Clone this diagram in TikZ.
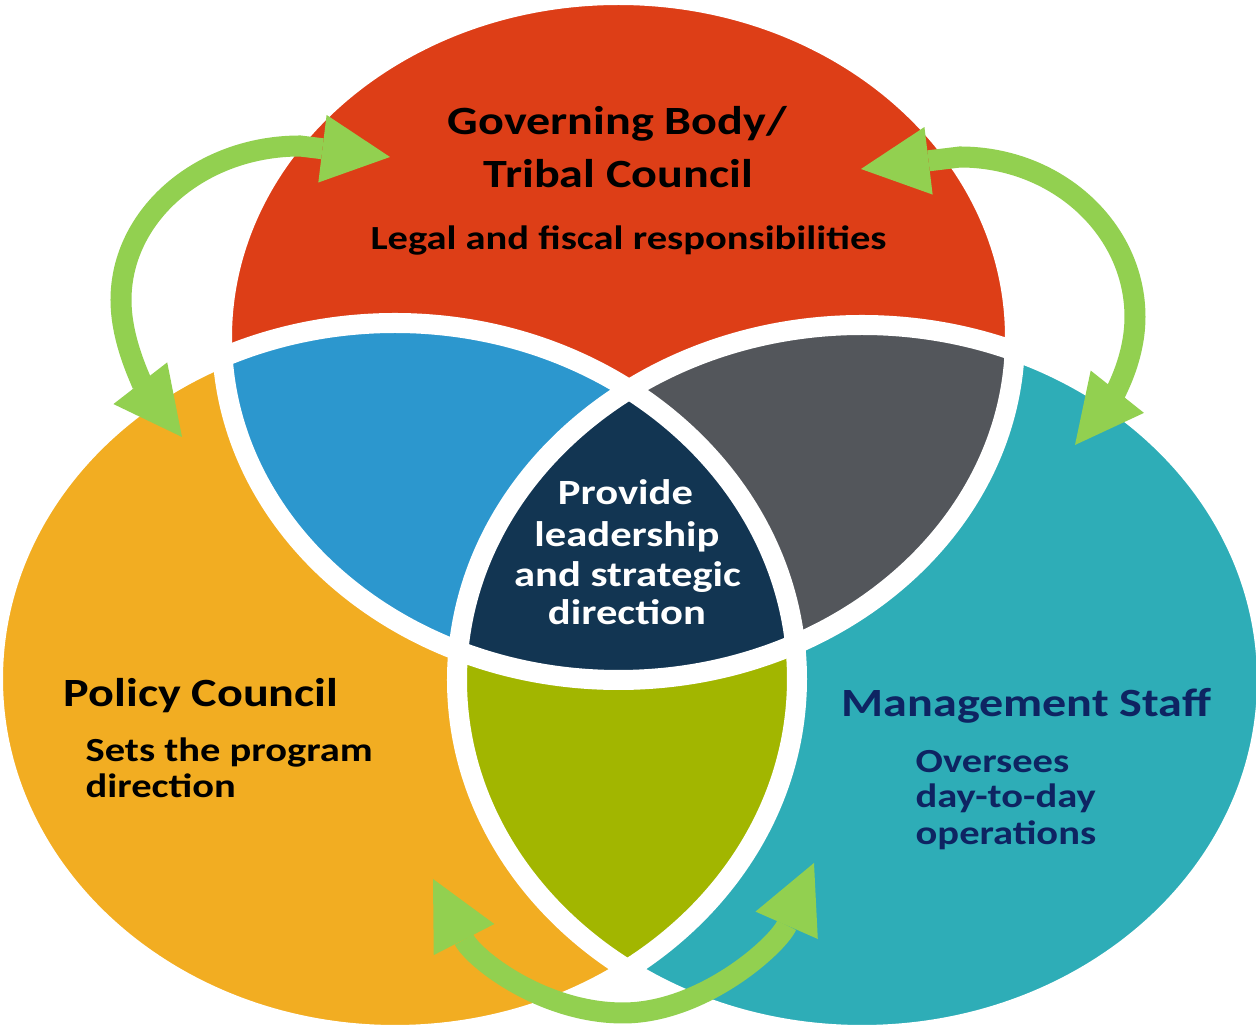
\documentclass[tikz,border=0pt]{standalone}
\usepackage{fontspec}
\setmainfont{Carlito}
\usepackage{graphicx}
\usetikzlibrary{arrows.meta}

\definecolor{govred}{HTML}{DD3E17}
\definecolor{polorange}{HTML}{F2AD22}
\definecolor{mgtteal}{HTML}{2EADB7}
\definecolor{pairblue}{HTML}{2C97CE}
\definecolor{pairgray}{HTML}{53565B}
\definecolor{pairolive}{HTML}{A2B600}
\definecolor{corenavy}{HTML}{123552}
\definecolor{flowgreen}{HTML}{92D050}
\definecolor{mgtink}{HTML}{0E2462}

\tikzstyle{ring}=[draw=white,line width=0.2cm]
\tikzstyle{flow}=[draw=flowgreen,line width=0.21cm,arrows={Triangle[width=0.68cm,length=0.68cm,line width=0pt]-Triangle[width=0.68cm,length=0.68cm,line width=0pt]}]
\tikzstyle{headtext}=[font=\fontsize{11.4}{13}\selectfont\bfseries,inner sep=0pt,text=black]
\tikzstyle{subtext}=[font=\fontsize{9.6}{11}\selectfont\bfseries,inner sep=0pt,text=black]
\tikzstyle{mgthead}=[headtext,text=mgtink]
\tikzstyle{mgtsub}=[subtext,text=mgtink]
\tikzstyle{coretext}=[font=\fontsize{10.1}{12}\selectfont\bfseries,inner sep=0pt,text=white]

\newcommand{\wide}[1]{\scalebox{1.2}[1]{#1}}

\begin{document}
\begin{tikzpicture}[x=0.01cm,y=-0.01cm]
    \useasboundingbox (0,0) rectangle (1256,1031);
    % circle centres
    \coordinate (gov) at (618.5,337.5);
    \coordinate (pol) at (395,679);
    \coordinate (mgt) at (862,680);
    % circles
    \fill[govred] (gov) ellipse [x radius=396.5, y radius=342.5];
    \fill[polorange] (pol) ellipse [x radius=402, y radius=356];
    \fill[mgtteal] (mgt) ellipse [x radius=405, y radius=355];
    % overlaps
    \begin{scope}
      \clip (pol) ellipse [x radius=402, y radius=356];
      \fill[pairolive] (mgt) ellipse [x radius=405, y radius=355];
    \end{scope}
    \begin{scope}
      \clip (gov) ellipse [x radius=396.5, y radius=342.5];
      \fill[pairblue] (pol) ellipse [x radius=402, y radius=356];
      \fill[pairgray] (mgt) ellipse [x radius=405, y radius=355];
      \clip (pol) ellipse [x radius=402, y radius=356];
      \fill[corenavy] (mgt) ellipse [x radius=405, y radius=355];
    \end{scope}
    % white rims
    \foreach \c/\rx/\ry in {gov/396.5/342.5, pol/402/356, mgt/405/355}
      \draw[ring] (\c) ellipse [x radius=\rx, y radius=\ry];

    % arrows
    \coordinate (tlLow) at (182,437);
    \coordinate (tlTop) at (390,157);
    \coordinate (trTop) at (861,169);
    \coordinate (trLow) at (1075,445);
    \coordinate (btLeft) at (433,879);
    \coordinate (btRight) at (814,863);
    \draw[flow] (tlLow) .. controls (151,397) and (121,350) .. (121,300)
                .. controls (121,215) and (201,146) .. (300,146) -- (tlTop);
    \draw[flow] (trTop) -- (960,157) .. controls (1057,157) and (1135,229) .. (1135,317)
                .. controls (1135,367) and (1106,406) .. (trLow);
    \draw[flow] (btLeft) .. controls (474,959) and (543,1013) .. (623,1013)
                .. controls (703,1013) and (778,945) .. (btRight);

    % labels
    \foreach \id/\x/\y/\anc/\sty/\txt in {
      govA/617.5/135/base/headtext/{Governing Body/},
      govB/618.5/188/base/headtext/{Tribal Council},
      govC/628.5/250/base/subtext/{Legal and fiscal responsibilities},
      coreA/625.5/505/base/coretext/{Provide},
      coreB/627/547/base/coretext/{leadership},
      coreC/627.5/587/base/coretext/{and strategic},
      coreD/627/625/base/coretext/{direction},
      polA/63/707/base west/headtext/{Policy Council},
      polB/85/762/base west/subtext/{Sets the program},
      polC/85/798/base west/subtext/{direction},
      mgtA/841/717/base west/mgthead/{Management Staff},
      mgtB/915/773/base west/mgtsub/{Oversees},
      mgtC/915/808/base west/mgtsub/{day-to-day},
      mgtD/915/845/base west/mgtsub/{operations}}
    {
        \node[\sty,anchor=\anc] (\id) at (\x,\y) {\wide{\txt}};
    };
\end{tikzpicture}
\end{document}
